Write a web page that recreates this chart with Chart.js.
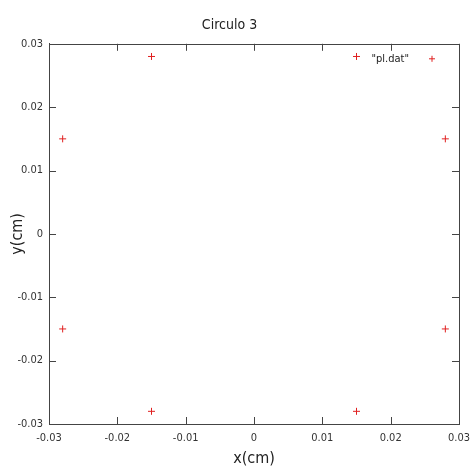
<!DOCTYPE html>
<html>
<head>
<meta charset="utf-8">
<script src="https://cdn.jsdelivr.net/npm/chart.js@4/dist/chart.umd.min.js"></script>
<style>
  html, body { margin: 0; padding: 0; background: #fff; }
  #wrap { width: 472px; height: 472px; }
</style>
</head>
<body>
<div id="wrap"><canvas id="c" width="472" height="472"></canvas></div>
<script>
// points (cm)
const xValues = [-0.015, 0.015, -0.028, 0.028, -0.028, 0.028, -0.015, 0.015];
const yValues = [0.028, 0.028, 0.015, 0.015, -0.015, -0.015, -0.028, -0.028];
const tickValues = [-0.03, -0.02, -0.01, 0, 0.01, 0.02, 0.03];
const seriesName = '"pl.dat"';

const fontFam = "'DejaVu Sans Condensed', 'Liberation Sans Narrow', sans-serif";

// gnuplot style: inward ticks on all 4 sides + key in top-right corner
const gnuplotBits = {
  id: "gnuplotBits",
  afterDraw(chart) {
    const ctx = chart.ctx;
    const a = chart.chartArea;
    const xs = chart.scales.x, ys = chart.scales.y;
    ctx.save();
    ctx.strokeStyle = "#444";
    ctx.lineWidth = 1;
    ctx.strokeRect(Math.round(a.left) + 0.5, Math.round(a.top) + 0.5,
      Math.round(a.right - a.left), Math.round(a.bottom - a.top));
    ctx.beginPath();
    tickValues.forEach(v => {
      const px = Math.round(xs.getPixelForValue(v)) + 0.5;
      ctx.moveTo(px, a.bottom); ctx.lineTo(px, a.bottom - 7);
      ctx.moveTo(px, a.top); ctx.lineTo(px, a.top + 7);
      const py = Math.round(ys.getPixelForValue(v)) + 0.5;
      ctx.moveTo(a.left, py); ctx.lineTo(a.left + 7, py);
      ctx.moveTo(a.right, py); ctx.lineTo(a.right - 7, py);
    });
    ctx.stroke();

    // key
    ctx.font = "11px " + fontFam;
    ctx.fillStyle = "#222";
    ctx.textAlign = "right";
    ctx.textBaseline = "middle";
    const ky = a.top + 15;
    ctx.fillText(seriesName, a.right - 50, ky);
    ctx.strokeStyle = "#e02020";
    ctx.beginPath();
    const kx = a.right - 27;
    ctx.moveTo(kx - 3, ky); ctx.lineTo(kx + 3, ky);
    ctx.moveTo(kx, ky - 3); ctx.lineTo(kx, ky + 3);
    ctx.stroke();
    ctx.restore();
  }
};

new Chart(document.getElementById("c"), {
  type: "scatter",
  data: {
    datasets: [{
      label: seriesName,
      data: xValues.map((x, i) => ({ x: x, y: yValues[i] })),
      pointStyle: "cross",
      pointRadius: 3.5,
      borderColor: "#e02020",
      borderWidth: 1,
      backgroundColor: "#e02020"
    }]
  },
  options: {
    responsive: false,
    animation: false,
    layout: { padding: { left: 0, right: 13, top: 0, bottom: 0 } },
    plugins: {
      legend: { display: false },
      tooltip: { enabled: false },
      title: {
        display: true,
        text: "Circulo 3",
        color: "#222",
        font: { family: fontFam, size: 14, weight: "normal" },
        padding: { top: 17, bottom: 10 }
      }
    },
    scales: {
      x: {
        type: "linear",
        min: -0.03, max: 0.03,
        afterBuildTicks: s => { s.ticks = tickValues.map(v => ({ value: v })); },
        afterFit: s => { s.height = 48; s.paddingLeft = 0; s.paddingRight = 0; },
        grid: { display: false, drawTicks: false },
        border: { display: true, color: "#444", width: 1 },
        ticks: {
          color: "#333", padding: 8,
          font: { family: fontFam, size: 11 },
          maxRotation: 0,
          callback: v => String(Number(v.toFixed(2)))
        },
        title: {
          display: true, text: "x(cm)", color: "#222",
          font: { family: fontFam, size: 16 },
          padding: { top: 0, bottom: 4 }
        }
      },
      y: {
        type: "linear",
        min: -0.03, max: 0.03,
        afterBuildTicks: s => { s.ticks = tickValues.map(v => ({ value: v })); },
        afterFit: s => { s.width = 49; },
        grid: { display: false, drawTicks: false },
        border: { display: true, color: "#444", width: 1 },
        ticks: {
          color: "#333", padding: 6,
          font: { family: fontFam, size: 11 },
          callback: v => String(Number(v.toFixed(2)))
        },
        title: {
          display: true, text: "y(cm)", color: "#222",
          font: { family: fontFam, size: 16 },
          padding: { top: 8, bottom: 0 }
        }
      }
    }
  },
  plugins: [gnuplotBits]
});
</script>
</body>
</html>
